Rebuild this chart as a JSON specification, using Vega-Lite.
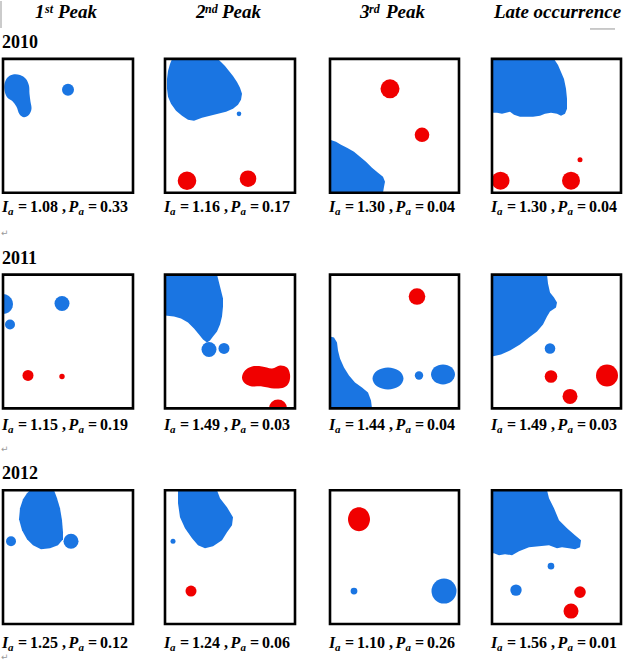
{
  "$schema": "https://vega.github.io/schema/vega-lite/v6.json",
  "width": 624,
  "height": 662,
  "autosize": {"type": "fit", "contains": "padding"},
  "padding": 0,
  "background": "white",
  "config": {"view": {"stroke": null}},
  "datasets": {
    "clipped": [
      {"g":"B1","i":0,"x":172,"y":58,"cluster":"cold"},{"g":"B1","i":1,"x":218,"y":58,"cluster":"cold"},{"g":"B1","i":2,"x":221,"y":61,"cluster":"cold"},{"g":"B1","i":3,"x":225,"y":65,"cluster":"cold"},{"g":"B1","i":4,"x":229,"y":70,"cluster":"cold"},{"g":"B1","i":5,"x":233,"y":75,"cluster":"cold"},{"g":"B1","i":6,"x":237,"y":81,"cluster":"cold"},{"g":"B1","i":7,"x":240,"y":87,"cluster":"cold"},{"g":"B1","i":8,"x":242,"y":93,"cluster":"cold"},{"g":"B1","i":9,"x":241,"y":99,"cluster":"cold"},{"g":"B1","i":10,"x":238,"y":104,"cluster":"cold"},{"g":"B1","i":11,"x":233,"y":108,"cluster":"cold"},{"g":"B1","i":12,"x":226,"y":111,"cluster":"cold"},{"g":"B1","i":13,"x":218,"y":113,"cluster":"cold"},{"g":"B1","i":14,"x":210,"y":115,"cluster":"cold"},{"g":"B1","i":15,"x":202,"y":117,"cluster":"cold"},{"g":"B1","i":16,"x":194,"y":120,"cluster":"cold"},{"g":"B1","i":17,"x":188,"y":119,"cluster":"cold"},{"g":"B1","i":18,"x":182,"y":115,"cluster":"cold"},{"g":"B1","i":19,"x":176,"y":110,"cluster":"cold"},{"g":"B1","i":20,"x":171,"y":103,"cluster":"cold"},{"g":"B1","i":21,"x":168,"y":96,"cluster":"cold"},{"g":"B1","i":22,"x":167,"y":88,"cluster":"cold"},{"g":"B1","i":23,"x":167,"y":78,"cluster":"cold"},{"g":"B1","i":24,"x":168,"y":70,"cluster":"cold"},{"g":"B1","i":25,"x":170,"y":63,"cluster":"cold"},
      {"g":"C3","i":0,"x":330,"y":139,"cluster":"cold"},{"g":"C3","i":1,"x":336,"y":141,"cluster":"cold"},{"g":"C3","i":2,"x":341,"y":144,"cluster":"cold"},{"g":"C3","i":3,"x":347,"y":147,"cluster":"cold"},{"g":"C3","i":4,"x":354,"y":151,"cluster":"cold"},{"g":"C3","i":5,"x":360,"y":156,"cluster":"cold"},{"g":"C3","i":6,"x":366,"y":161,"cluster":"cold"},{"g":"C3","i":7,"x":372,"y":167,"cluster":"cold"},{"g":"C3","i":8,"x":378,"y":172,"cluster":"cold"},{"g":"C3","i":9,"x":383,"y":176,"cluster":"cold"},{"g":"C3","i":10,"x":385,"y":181,"cluster":"cold"},{"g":"C3","i":11,"x":384,"y":186,"cluster":"cold"},{"g":"C3","i":12,"x":383,"y":192,"cluster":"cold"},{"g":"C3","i":13,"x":330,"y":192,"cluster":"cold"},
      {"g":"D1","i":0,"x":492,"y":58,"cluster":"cold"},{"g":"D1","i":1,"x":554,"y":58,"cluster":"cold"},{"g":"D1","i":2,"x":558,"y":64,"cluster":"cold"},{"g":"D1","i":3,"x":561,"y":71,"cluster":"cold"},{"g":"D1","i":4,"x":564,"y":78,"cluster":"cold"},{"g":"D1","i":5,"x":566,"y":88,"cluster":"cold"},{"g":"D1","i":6,"x":567,"y":98,"cluster":"cold"},{"g":"D1","i":7,"x":567,"y":108,"cluster":"cold"},{"g":"D1","i":8,"x":565,"y":113,"cluster":"cold"},{"g":"D1","i":9,"x":561,"y":115,"cluster":"cold"},{"g":"D1","i":10,"x":557,"y":113,"cluster":"cold"},{"g":"D1","i":11,"x":551,"y":112,"cluster":"cold"},{"g":"D1","i":12,"x":545,"y":113,"cluster":"cold"},{"g":"D1","i":13,"x":540,"y":115,"cluster":"cold"},{"g":"D1","i":14,"x":533,"y":116,"cluster":"cold"},{"g":"D1","i":15,"x":526,"y":116,"cluster":"cold"},{"g":"D1","i":16,"x":520,"y":116,"cluster":"cold"},{"g":"D1","i":17,"x":514,"y":114,"cluster":"cold"},{"g":"D1","i":18,"x":510,"y":111,"cluster":"cold"},{"g":"D1","i":19,"x":506,"y":112,"cluster":"cold"},{"g":"D1","i":20,"x":502,"y":113,"cluster":"cold"},{"g":"D1","i":21,"x":497,"y":112,"cluster":"cold"},{"g":"D1","i":22,"x":492,"y":112,"cluster":"cold"},
      {"g":"E1","i":0,"x":3,"y":293.5,"cluster":"cold"},{"g":"E1","i":1,"x":6.1,"y":294,"cluster":"cold"},{"g":"E1","i":2,"x":8.9,"y":295.4,"cluster":"cold"},{"g":"E1","i":3,"x":11.1,"y":297.6,"cluster":"cold"},{"g":"E1","i":4,"x":12.5,"y":300.4,"cluster":"cold"},{"g":"E1","i":5,"x":13,"y":303.5,"cluster":"cold"},{"g":"E1","i":6,"x":12.5,"y":306.6,"cluster":"cold"},{"g":"E1","i":7,"x":11.1,"y":309.4,"cluster":"cold"},{"g":"E1","i":8,"x":8.9,"y":311.6,"cluster":"cold"},{"g":"E1","i":9,"x":6.1,"y":313,"cluster":"cold"},{"g":"E1","i":10,"x":3,"y":313.5,"cluster":"cold"},
      {"g":"F1","i":0,"x":165,"y":274,"cluster":"cold"},{"g":"F1","i":1,"x":217,"y":274,"cluster":"cold"},{"g":"F1","i":2,"x":219,"y":282,"cluster":"cold"},{"g":"F1","i":3,"x":221,"y":290,"cluster":"cold"},{"g":"F1","i":4,"x":223,"y":298,"cluster":"cold"},{"g":"F1","i":5,"x":223,"y":306,"cluster":"cold"},{"g":"F1","i":6,"x":222,"y":316,"cluster":"cold"},{"g":"F1","i":7,"x":220,"y":324,"cluster":"cold"},{"g":"F1","i":8,"x":217,"y":331,"cluster":"cold"},{"g":"F1","i":9,"x":213,"y":336,"cluster":"cold"},{"g":"F1","i":10,"x":210,"y":340,"cluster":"cold"},{"g":"F1","i":11,"x":207,"y":342,"cluster":"cold"},{"g":"F1","i":12,"x":203,"y":339,"cluster":"cold"},{"g":"F1","i":13,"x":199,"y":334,"cluster":"cold"},{"g":"F1","i":14,"x":194,"y":328,"cluster":"cold"},{"g":"F1","i":15,"x":188,"y":322,"cluster":"cold"},{"g":"F1","i":16,"x":181,"y":318,"cluster":"cold"},{"g":"F1","i":17,"x":174,"y":316,"cluster":"cold"},{"g":"F1","i":18,"x":165,"y":315,"cluster":"cold"},
      {"g":"F5","i":0,"x":269,"y":408,"cluster":"hot"},{"g":"F5","i":1,"x":269.6,"y":404.6,"cluster":"hot"},{"g":"F5","i":2,"x":271.6,"y":401.6,"cluster":"hot"},{"g":"F5","i":3,"x":274.6,"y":399.6,"cluster":"hot"},{"g":"F5","i":4,"x":278,"y":399,"cluster":"hot"},{"g":"F5","i":5,"x":281.4,"y":399.6,"cluster":"hot"},{"g":"F5","i":6,"x":284.4,"y":401.6,"cluster":"hot"},{"g":"F5","i":7,"x":286.4,"y":404.6,"cluster":"hot"},{"g":"F5","i":8,"x":287,"y":408,"cluster":"hot"},
      {"g":"G2","i":0,"x":330,"y":336,"cluster":"cold"},{"g":"G2","i":1,"x":334,"y":337,"cluster":"cold"},{"g":"G2","i":2,"x":337,"y":342,"cluster":"cold"},{"g":"G2","i":3,"x":338,"y":350,"cluster":"cold"},{"g":"G2","i":4,"x":340,"y":358,"cluster":"cold"},{"g":"G2","i":5,"x":344,"y":367,"cluster":"cold"},{"g":"G2","i":6,"x":349,"y":375,"cluster":"cold"},{"g":"G2","i":7,"x":355,"y":382,"cluster":"cold"},{"g":"G2","i":8,"x":362,"y":387,"cluster":"cold"},{"g":"G2","i":9,"x":368,"y":392,"cluster":"cold"},{"g":"G2","i":10,"x":371,"y":400,"cluster":"cold"},{"g":"G2","i":11,"x":372,"y":408,"cluster":"cold"},{"g":"G2","i":12,"x":330,"y":408,"cluster":"cold"},
      {"g":"H1","i":0,"x":492,"y":274,"cluster":"cold"},{"g":"H1","i":1,"x":547,"y":274,"cluster":"cold"},{"g":"H1","i":2,"x":548,"y":283,"cluster":"cold"},{"g":"H1","i":3,"x":550,"y":292,"cluster":"cold"},{"g":"H1","i":4,"x":554,"y":297,"cluster":"cold"},{"g":"H1","i":5,"x":557,"y":302,"cluster":"cold"},{"g":"H1","i":6,"x":556,"y":307,"cluster":"cold"},{"g":"H1","i":7,"x":550,"y":311,"cluster":"cold"},{"g":"H1","i":8,"x":547,"y":316,"cluster":"cold"},{"g":"H1","i":9,"x":543,"y":324,"cluster":"cold"},{"g":"H1","i":10,"x":537,"y":331,"cluster":"cold"},{"g":"H1","i":11,"x":529,"y":337,"cluster":"cold"},{"g":"H1","i":12,"x":520,"y":344,"cluster":"cold"},{"g":"H1","i":13,"x":510,"y":350,"cluster":"cold"},{"g":"H1","i":14,"x":501,"y":354,"cluster":"cold"},{"g":"H1","i":15,"x":492,"y":356,"cluster":"cold"},
      {"g":"I1","i":0,"x":30,"y":490,"cluster":"cold"},{"g":"I1","i":1,"x":54,"y":490,"cluster":"cold"},{"g":"I1","i":2,"x":57,"y":498,"cluster":"cold"},{"g":"I1","i":3,"x":60,"y":508,"cluster":"cold"},{"g":"I1","i":4,"x":62,"y":520,"cluster":"cold"},{"g":"I1","i":5,"x":63,"y":532,"cluster":"cold"},{"g":"I1","i":6,"x":63,"y":539,"cluster":"cold"},{"g":"I1","i":7,"x":58,"y":545,"cluster":"cold"},{"g":"I1","i":8,"x":50,"y":548,"cluster":"cold"},{"g":"I1","i":9,"x":41,"y":549,"cluster":"cold"},{"g":"I1","i":10,"x":33,"y":545,"cluster":"cold"},{"g":"I1","i":11,"x":27,"y":539,"cluster":"cold"},{"g":"I1","i":12,"x":22,"y":530,"cluster":"cold"},{"g":"I1","i":13,"x":19,"y":519,"cluster":"cold"},{"g":"I1","i":14,"x":20,"y":508,"cluster":"cold"},{"g":"I1","i":15,"x":23,"y":499,"cluster":"cold"},{"g":"I1","i":16,"x":27,"y":493,"cluster":"cold"},
      {"g":"J1","i":0,"x":178,"y":490,"cluster":"cold"},{"g":"J1","i":1,"x":217,"y":490,"cluster":"cold"},{"g":"J1","i":2,"x":220,"y":498,"cluster":"cold"},{"g":"J1","i":3,"x":227,"y":507,"cluster":"cold"},{"g":"J1","i":4,"x":233,"y":517,"cluster":"cold"},{"g":"J1","i":5,"x":232,"y":525,"cluster":"cold"},{"g":"J1","i":6,"x":227,"y":532,"cluster":"cold"},{"g":"J1","i":7,"x":222,"y":540,"cluster":"cold"},{"g":"J1","i":8,"x":213,"y":546,"cluster":"cold"},{"g":"J1","i":9,"x":205,"y":548,"cluster":"cold"},{"g":"J1","i":10,"x":198,"y":545,"cluster":"cold"},{"g":"J1","i":11,"x":192,"y":538,"cluster":"cold"},{"g":"J1","i":12,"x":185,"y":528,"cluster":"cold"},{"g":"J1","i":13,"x":180,"y":517,"cluster":"cold"},{"g":"J1","i":14,"x":178,"y":503,"cluster":"cold"},
      {"g":"L1","i":0,"x":492,"y":490,"cluster":"cold"},{"g":"L1","i":1,"x":547,"y":490,"cluster":"cold"},{"g":"L1","i":2,"x":549,"y":498,"cluster":"cold"},{"g":"L1","i":3,"x":554,"y":508,"cluster":"cold"},{"g":"L1","i":4,"x":559,"y":520,"cluster":"cold"},{"g":"L1","i":5,"x":567,"y":528,"cluster":"cold"},{"g":"L1","i":6,"x":575,"y":535,"cluster":"cold"},{"g":"L1","i":7,"x":581,"y":540,"cluster":"cold"},{"g":"L1","i":8,"x":580,"y":547,"cluster":"cold"},{"g":"L1","i":9,"x":575,"y":549,"cluster":"cold"},{"g":"L1","i":10,"x":569,"y":548,"cluster":"cold"},{"g":"L1","i":11,"x":562,"y":547,"cluster":"cold"},{"g":"L1","i":12,"x":557,"y":548,"cluster":"cold"},{"g":"L1","i":13,"x":549,"y":545,"cluster":"cold"},{"g":"L1","i":14,"x":539,"y":546,"cluster":"cold"},{"g":"L1","i":15,"x":529,"y":547,"cluster":"cold"},{"g":"L1","i":16,"x":519,"y":551,"cluster":"cold"},{"g":"L1","i":17,"x":512,"y":555,"cluster":"cold"},{"g":"L1","i":18,"x":505,"y":554,"cluster":"cold"},{"g":"L1","i":19,"x":499,"y":555,"cluster":"cold"},{"g":"L1","i":20,"x":494,"y":553,"cluster":"cold"},{"g":"L1","i":21,"x":492,"y":553,"cluster":"cold"}
    ],
    "smooth": [
      {"g":"A1","i":0,"x":13,"y":73.5,"cluster":"cold"},{"g":"A1","i":1,"x":20,"y":74,"cluster":"cold"},{"g":"A1","i":2,"x":26,"y":78,"cluster":"cold"},{"g":"A1","i":3,"x":29,"y":85,"cluster":"cold"},{"g":"A1","i":4,"x":29.5,"y":93,"cluster":"cold"},{"g":"A1","i":5,"x":30.5,"y":101,"cluster":"cold"},{"g":"A1","i":6,"x":31.5,"y":108,"cluster":"cold"},{"g":"A1","i":7,"x":29,"y":114,"cluster":"cold"},{"g":"A1","i":8,"x":24,"y":116.5,"cluster":"cold"},{"g":"A1","i":9,"x":19.5,"y":113.5,"cluster":"cold"},{"g":"A1","i":10,"x":16.5,"y":106,"cluster":"cold"},{"g":"A1","i":11,"x":12.5,"y":100.5,"cluster":"cold"},{"g":"A1","i":12,"x":7.5,"y":97,"cluster":"cold"},{"g":"A1","i":13,"x":4.8,"y":91,"cluster":"cold"},{"g":"A1","i":14,"x":4.5,"y":83,"cluster":"cold"},{"g":"A1","i":15,"x":7.5,"y":76.5,"cluster":"cold"},
      {"g":"F4","i":0,"x":245,"y":370,"cluster":"hot"},{"g":"F4","i":1,"x":252,"y":366,"cluster":"hot"},{"g":"F4","i":2,"x":262,"y":366,"cluster":"hot"},{"g":"F4","i":3,"x":272,"y":368,"cluster":"hot"},{"g":"F4","i":4,"x":280,"y":365,"cluster":"hot"},{"g":"F4","i":5,"x":287,"y":367,"cluster":"hot"},{"g":"F4","i":6,"x":290,"y":374,"cluster":"hot"},{"g":"F4","i":7,"x":289,"y":382,"cluster":"hot"},{"g":"F4","i":8,"x":284,"y":387,"cluster":"hot"},{"g":"F4","i":9,"x":274,"y":388,"cluster":"hot"},{"g":"F4","i":10,"x":262,"y":386,"cluster":"hot"},{"g":"F4","i":11,"x":252,"y":386,"cluster":"hot"},{"g":"F4","i":12,"x":245,"y":383,"cluster":"hot"},{"g":"F4","i":13,"x":242,"y":377,"cluster":"hot"},
      {"g":"G3","i":0,"x":403.5,"y":378,"cluster":"cold"},{"g":"G3","i":1,"x":399,"y":385.8,"cluster":"cold"},{"g":"G3","i":2,"x":388,"y":389,"cluster":"cold"},{"g":"G3","i":3,"x":377,"y":385.8,"cluster":"cold"},{"g":"G3","i":4,"x":372.5,"y":378,"cluster":"cold"},{"g":"G3","i":5,"x":377,"y":370.2,"cluster":"cold"},{"g":"G3","i":6,"x":388,"y":367,"cluster":"cold"},{"g":"G3","i":7,"x":399,"y":370.2,"cluster":"cold"},
      {"g":"G5","i":0,"x":455,"y":374,"cluster":"cold"},{"g":"G5","i":1,"x":451.5,"y":381.1,"cluster":"cold"},{"g":"G5","i":2,"x":443,"y":384,"cluster":"cold"},{"g":"G5","i":3,"x":434.5,"y":381.1,"cluster":"cold"},{"g":"G5","i":4,"x":431,"y":374,"cluster":"cold"},{"g":"G5","i":5,"x":434.5,"y":366.9,"cluster":"cold"},{"g":"G5","i":6,"x":443,"y":364,"cluster":"cold"},{"g":"G5","i":7,"x":451.5,"y":366.9,"cluster":"cold"},
      {"g":"K1","i":0,"x":370,"y":519,"cluster":"hot"},{"g":"K1","i":1,"x":368.5,"y":525,"cluster":"hot"},{"g":"K1","i":2,"x":364.5,"y":529.4,"cluster":"hot"},{"g":"K1","i":3,"x":359,"y":531,"cluster":"hot"},{"g":"K1","i":4,"x":353.5,"y":529.4,"cluster":"hot"},{"g":"K1","i":5,"x":349.5,"y":525,"cluster":"hot"},{"g":"K1","i":6,"x":348,"y":519,"cluster":"hot"},{"g":"K1","i":7,"x":349.5,"y":513,"cluster":"hot"},{"g":"K1","i":8,"x":353.5,"y":508.6,"cluster":"hot"},{"g":"K1","i":9,"x":359,"y":507,"cluster":"hot"},{"g":"K1","i":10,"x":364.5,"y":508.6,"cluster":"hot"},{"g":"K1","i":11,"x":368.5,"y":513,"cluster":"hot"}
    ],
    "dots": [
      {"x":68,"y":89,"r":6,"cluster":"cold"},
      {"x":239,"y":113,"r":2.3,"cluster":"cold"},
      {"x":187,"y":180,"r":9.3,"cluster":"hot"},
      {"x":248,"y":178,"r":8.3,"cluster":"hot"},
      {"x":390,"y":88,"r":9.5,"cluster":"hot"},
      {"x":422,"y":134,"r":7.3,"cluster":"hot"},
      {"x":500.5,"y":180,"r":9,"cluster":"hot"},
      {"x":571,"y":180,"r":9,"cluster":"hot"},
      {"x":580,"y":159,"r":2.5,"cluster":"hot"},
      {"x":10,"y":324,"r":5,"cluster":"cold"},
      {"x":62,"y":303,"r":7.5,"cluster":"cold"},
      {"x":28,"y":375,"r":5.5,"cluster":"hot"},
      {"x":62,"y":376,"r":2.7,"cluster":"hot"},
      {"x":209,"y":349,"r":7.5,"cluster":"cold"},
      {"x":224,"y":348,"r":5.5,"cluster":"cold"},
      {"x":417,"y":296,"r":8.3,"cluster":"hot"},
      {"x":419,"y":375,"r":4.2,"cluster":"cold"},
      {"x":550,"y":348,"r":5.3,"cluster":"cold"},
      {"x":551,"y":376,"r":6.3,"cluster":"hot"},
      {"x":570,"y":396,"r":7.5,"cluster":"hot"},
      {"x":607,"y":375,"r":11,"cluster":"hot"},
      {"x":71,"y":541,"r":7.5,"cluster":"cold"},
      {"x":11,"y":541,"r":5,"cluster":"cold"},
      {"x":173,"y":541,"r":2.5,"cluster":"cold"},
      {"x":191,"y":591,"r":5.5,"cluster":"hot"},
      {"x":354,"y":591,"r":3.4,"cluster":"cold"},
      {"x":444,"y":591,"r":12.5,"cluster":"cold"},
      {"x":551,"y":566,"r":3.3,"cluster":"cold"},
      {"x":516,"y":590,"r":5.7,"cluster":"cold"},
      {"x":580,"y":592,"r":5.8,"cluster":"hot"},
      {"x":571,"y":611,"r":7.5,"cluster":"hot"}
    ],
    "panels": [
      {"x1":3,"x2":133,"y1":58,"y2":192},{"x1":165,"x2":295,"y1":58,"y2":192},{"x1":330,"x2":459,"y1":58,"y2":192},{"x1":492,"x2":621,"y1":58,"y2":192},
      {"x1":3,"x2":133,"y1":274,"y2":408},{"x1":165,"x2":295,"y1":274,"y2":408},{"x1":330,"x2":459,"y1":274,"y2":408},{"x1":492,"x2":621,"y1":274,"y2":408},
      {"x1":3,"x2":133,"y1":490,"y2":624},{"x1":165,"x2":295,"y1":490,"y2":624},{"x1":330,"x2":459,"y1":490,"y2":624},{"x1":492,"x2":621,"y1":490,"y2":624}
    ],
    "heads": [
      {"x":35,"y":17.5,"t":"1"},{"x":58,"y":17.5,"t":"Peak"},
      {"x":196,"y":17.5,"t":"2"},{"x":222,"y":17.5,"t":"Peak"},
      {"x":360,"y":17.5,"t":"3"},{"x":386,"y":17.5,"t":"Peak"},
      {"x":494,"y":17.5,"t":"Late occurrence"}
    ],
    "sups": [
      {"x":45,"y":12,"t":"st"},{"x":205,"y":12,"t":"nd"},{"x":369,"y":12,"t":"rd"}
    ],
    "years": [
      {"x":2,"y":47,"t":"2010"},{"x":2,"y":263,"t":"2011"},{"x":2,"y":478.5,"t":"2012"}
    ],
    "marks": [
      {"x":1,"y":235,"t":"↵"},{"x":1,"y":452,"t":"↵"},{"x":1,"y":660,"t":"↵"}
    ],
    "decor": [
      {"x1":1,"x2":1,"y1":0,"y2":27},{"x1":590,"x2":615,"y1":28,"y2":28}
    ],
    "captions": [
      {"x":3,"y":211.5,"ia":1.08,"pa":0.33},{"x":165,"y":211.5,"ia":1.16,"pa":0.17},{"x":330,"y":211.5,"ia":1.30,"pa":0.04},{"x":492,"y":211.5,"ia":1.30,"pa":0.04},
      {"x":3,"y":430,"ia":1.15,"pa":0.19},{"x":165,"y":430,"ia":1.49,"pa":0.03},{"x":330,"y":430,"ia":1.44,"pa":0.04},{"x":492,"y":430,"ia":1.49,"pa":0.03},
      {"x":3,"y":648,"ia":1.25,"pa":0.12},{"x":165,"y":648,"ia":1.24,"pa":0.06},{"x":330,"y":648,"ia":1.10,"pa":0.26},{"x":492,"y":648,"ia":1.56,"pa":0.01}
    ]
  },
  "encoding": {
    "x": {"field": "x", "type": "quantitative", "scale": {"domain": [0, 624], "nice": false, "zero": false}, "axis": null},
    "y": {"field": "y", "type": "quantitative", "scale": {"domain": [0, 662], "nice": false, "zero": false, "reverse": true}, "axis": null}
  },
  "layer": [
    {
      "data": {"name": "clipped"},
      "mark": {"type": "line", "filled": true, "interpolate": "linear-closed"},
      "encoding": {
        "detail": {"field": "g"},
        "order": {"field": "i", "type": "quantitative"},
        "color": {"field": "cluster", "type": "nominal", "scale": {"domain": ["cold", "hot"], "range": ["#1A75E2", "#F00000"]}, "legend": null}
      }
    },
    {
      "data": {"name": "smooth"},
      "mark": {"type": "line", "filled": true, "interpolate": "cardinal-closed"},
      "encoding": {
        "detail": {"field": "g"},
        "order": {"field": "i", "type": "quantitative"},
        "color": {"field": "cluster", "type": "nominal", "scale": {"domain": ["cold", "hot"], "range": ["#1A75E2", "#F00000"]}, "legend": null}
      }
    },
    {
      "data": {"name": "dots"},
      "mark": {"type": "point", "shape": "circle", "filled": true, "opacity": 1, "strokeWidth": 0},
      "encoding": {
        "size": {"field": "r", "type": "quantitative", "scale": {"type": "pow", "exponent": 2, "domain": [0, 10], "range": [0, 400]}, "legend": null},
        "color": {"field": "cluster", "type": "nominal", "scale": {"domain": ["cold", "hot"], "range": ["#1A75E2", "#F00000"]}, "legend": null}
      }
    },
    {
      "data": {"name": "panels"},
      "mark": {"type": "rect", "fill": "transparent", "stroke": "black", "strokeWidth": 2.6},
      "encoding": {
        "x": {"field": "x1", "type": "quantitative", "axis": null},
        "x2": {"field": "x2"},
        "y": {"field": "y1", "type": "quantitative", "axis": null},
        "y2": {"field": "y2"}
      }
    },
    {
      "data": {"name": "decor"},
      "mark": {"type": "rule", "stroke": "#A8A8A8", "strokeWidth": 1.2},
      "encoding": {
        "x": {"field": "x1", "type": "quantitative", "axis": null},
        "x2": {"field": "x2"},
        "y": {"field": "y1", "type": "quantitative", "axis": null},
        "y2": {"field": "y2"}
      }
    },
    {
      "data": {"name": "heads"},
      "mark": {"type": "text", "align": "left", "baseline": "alphabetic", "font": "Liberation Serif", "fontSize": 19, "fontWeight": "bold", "fontStyle": "italic", "color": "black"},
      "encoding": {"text": {"field": "t"}}
    },
    {
      "data": {"name": "sups"},
      "mark": {"type": "text", "align": "left", "baseline": "alphabetic", "font": "Liberation Serif", "fontSize": 12, "fontWeight": "bold", "fontStyle": "italic", "color": "black"},
      "encoding": {"text": {"field": "t"}}
    },
    {
      "data": {"name": "years"},
      "mark": {"type": "text", "align": "left", "baseline": "alphabetic", "font": "Liberation Serif", "fontSize": 18, "fontWeight": "bold", "color": "black"},
      "encoding": {"text": {"field": "t"}}
    },
    {
      "data": {"name": "marks"},
      "mark": {"type": "text", "align": "left", "baseline": "alphabetic", "font": "DejaVu Sans", "fontSize": 9, "color": "#9A9A9A"},
      "encoding": {"text": {"field": "t"}}
    },
    {
      "data": {"name": "captions"},
      "layer": [
        {"mark": {"type": "text", "text": "I", "dx": -1, "align": "left", "baseline": "alphabetic", "font": "Liberation Serif", "fontSize": 16, "fontWeight": "bold", "fontStyle": "italic", "color": "black"}},
        {"mark": {"type": "text", "text": "a", "dx": 5, "dy": 3, "align": "left", "baseline": "alphabetic", "font": "Liberation Serif", "fontSize": 11, "fontWeight": "bold", "fontStyle": "italic", "color": "black"}},
        {"mark": {"type": "text", "text": "=", "dx": 15, "align": "left", "baseline": "alphabetic", "font": "Liberation Serif", "fontSize": 16, "fontWeight": "bold", "color": "black"}},
        {"mark": {"type": "text", "dx": 27, "align": "left", "baseline": "alphabetic", "font": "Liberation Serif", "fontSize": 16, "fontWeight": "bold", "color": "black"},
         "encoding": {"text": {"field": "ia", "type": "quantitative", "format": ".2f"}}},
        {"mark": {"type": "text", "text": ",", "dx": 59, "align": "left", "baseline": "alphabetic", "font": "Liberation Serif", "fontSize": 16, "fontWeight": "bold", "color": "black"}},
        {"mark": {"type": "text", "text": "P", "dx": 65.5, "align": "left", "baseline": "alphabetic", "font": "Liberation Serif", "fontSize": 16, "fontWeight": "bold", "fontStyle": "italic", "color": "black"}},
        {"mark": {"type": "text", "text": "a", "dx": 75.5, "dy": 3, "align": "left", "baseline": "alphabetic", "font": "Liberation Serif", "fontSize": 11, "fontWeight": "bold", "fontStyle": "italic", "color": "black"}},
        {"mark": {"type": "text", "text": "=", "dx": 85, "align": "left", "baseline": "alphabetic", "font": "Liberation Serif", "fontSize": 16, "fontWeight": "bold", "color": "black"}},
        {"mark": {"type": "text", "dx": 97, "align": "left", "baseline": "alphabetic", "font": "Liberation Serif", "fontSize": 16, "fontWeight": "bold", "color": "black"},
         "encoding": {"text": {"field": "pa", "type": "quantitative", "format": ".2f"}}}
      ]
    }
  ]
}
